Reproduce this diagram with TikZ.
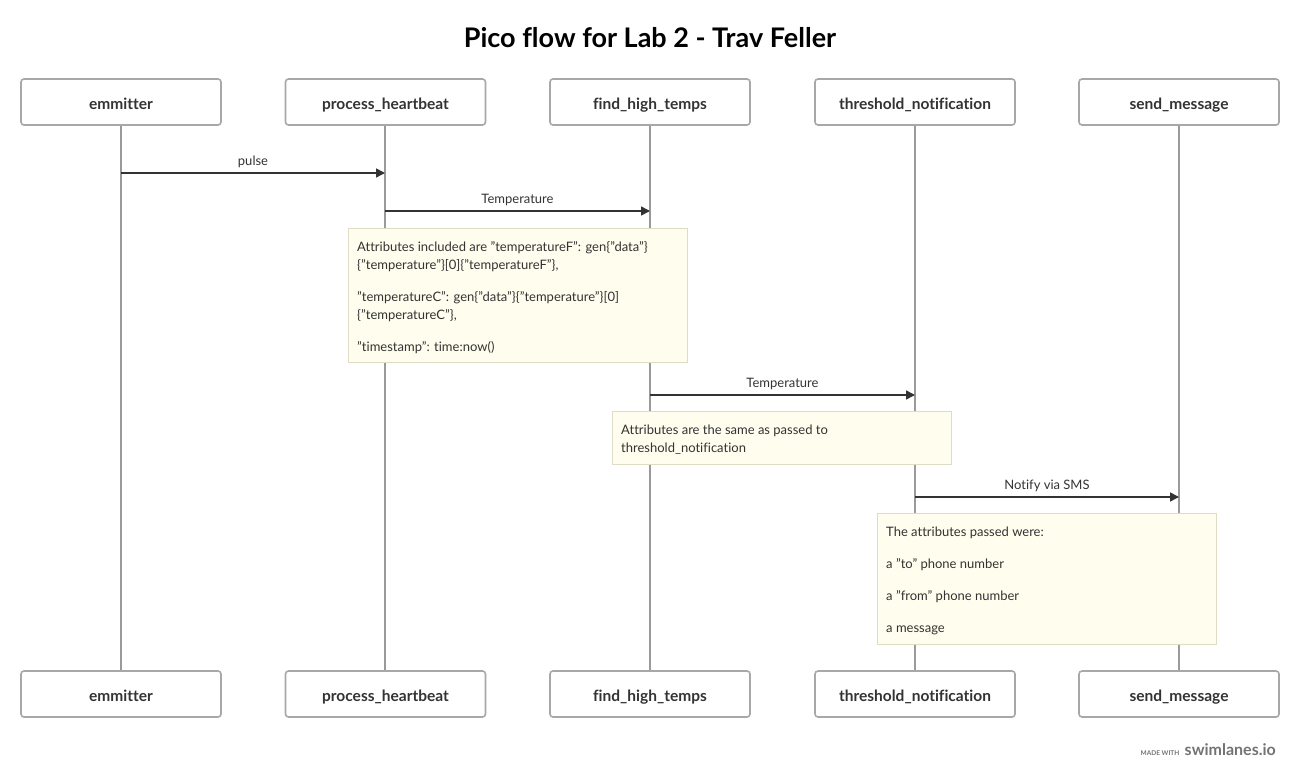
\documentclass[tikz,border=0pt]{standalone}
\usepackage{fontspec}
\setmainfont{Lato}[Ligatures={NoCommon,NoRequired}]
\usetikzlibrary{arrows.meta}
\definecolor{boxline}{HTML}{A8A8A8}
\definecolor{lifeline}{HTML}{9A9A9A}
\definecolor{msg}{HTML}{333333}
\definecolor{notefill}{HTML}{FEFDEE}
\definecolor{noteline}{HTML}{DEDCC6}
\definecolor{txt}{HTML}{333333}
\tikzset{
  actor/.style={draw=boxline, line width=1.6pt, rounded corners=3pt, fill=white,
    minimum width=200pt, minimum height=46pt, inner sep=0pt, text height=15pt, text depth=0pt,
    font=\fontsize{15.5}{18}\selectfont\bfseries, text=txt},
  life/.style={draw=lifeline, line width=1.5pt},
  msgarrow/.style={draw=msg, line width=1.5pt, -{Triangle[length=9pt,width=9pt]}},
  msglabel/.style={font=\fontsize{13}{15}\selectfont, text=txt, inner sep=0pt},
  notebox/.style={draw=noteline, fill=notefill, line width=0.8pt, inner sep=0pt, anchor=north west},
  notetext/.style={font=\fontsize{13}{18}\selectfont, text=txt, inner sep=0pt, anchor=north west, align=left},
}
\begin{document}
\begin{tikzpicture}[x=1pt,y=-1pt]
\useasboundingbox (0,0) rectangle (1300,778);
\fill[white] (0,0) rectangle (1300,778);
\node[font=\fontsize{27}{32}\selectfont\bfseries, text=black] (title) at (650,38) {Pico flow for Lab 2 - Trav Feller};
% lifelines
\foreach \n/\x in {a/121,b/385,c/650,d/915,e/1179}{
  \coordinate (\n t) at (\x,125);
  \coordinate (\n b) at (\x,671);
  \draw[life] (\n t) -- (\n b);
}
% actors
\node[actor] (a1) at (121,102) {emmitter};
\node[actor] (b1) at (385.5,102) {process\_heartbeat};
\node[actor] (c1) at (650,102) {find\_high\_temps};
\node[actor] (d1) at (915,102) {threshold\_notification};
\node[actor] (e1) at (1179,102) {send\_message};
\node[actor] (a2) at (121,694) {emmitter};
\node[actor] (b2) at (385.5,694) {process\_heartbeat};
\node[actor] (c2) at (650,694) {find\_high\_temps};
\node[actor] (d2) at (915,694) {threshold\_notification};
\node[actor] (e2) at (1179,694) {send\_message};
% messages
\coordinate (m1s) at (121,173); \coordinate (m1e) at (385,173);
\draw[msgarrow] (m1s) -- (m1e);
\node[msglabel] (l1) at (253,162) {pulse};
\coordinate (m2s) at (385,211); \coordinate (m2e) at (650,211);
\draw[msgarrow] (m2s) -- (m2e);
\node[msglabel] (l2) at (517.5,200) {Temperature};
% note 1
\node[notebox, minimum width=339pt, minimum height=134pt] (n1) at (348,228) {};
\node[notetext] (t1) at (357,241) {Attributes included are "temperatureF": gen\{"data"\}\\
\{"temperature"\}[0]\{"temperatureF"\},\\[14pt]
"temperatureC": gen\{"data"\}\{"temperature"\}[0]\\
\{"temperatureC"\},\\[14pt]
"timestamp": time:now()};
\coordinate (m3s) at (650,395); \coordinate (m3e) at (915,395);
\draw[msgarrow] (m3s) -- (m3e);
\node[msglabel] (l3) at (782.5,384) {Temperature};
% note 2
\node[notebox, minimum width=339pt, minimum height=53pt] (n2) at (612,411) {};
\node[notetext] (t2) at (621,425) {Attributes are the same as passed to\\threshold\_notification};
\coordinate (m4s) at (915,497); \coordinate (m4e) at (1179,497);
\draw[msgarrow] (m4s) -- (m4e);
\node[msglabel] (l4) at (1047,486) {Notify via SMS};
% note 3
\node[notebox, minimum width=339pt, minimum height=131pt] (n3) at (877,513) {};
\node[notetext, font=\fontsize{13}{32}\selectfont] (t3) at (886,527) {The attributes passed were:\\
a "to" phone number\\
a "from" phone number\\
a message};
% watermark
\node[anchor=base east, inner sep=0pt, text=black!55, font=\fontsize{16}{18}\selectfont\bfseries] (wm) at (1276,755) {swimlanes.io};
\node[anchor=base east, inner sep=0pt, text=black!55, font=\fontsize{6.5}{8}\selectfont\bfseries] (mw) at ([xshift=-5pt]wm.base west) {MADE WITH};
\end{tikzpicture}
\end{document}
